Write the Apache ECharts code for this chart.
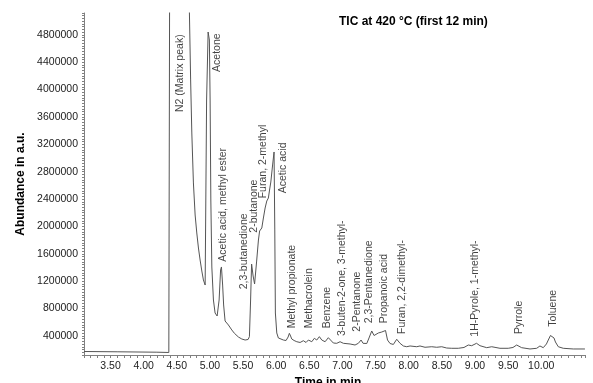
<!DOCTYPE html>
<html>
<head>
<meta charset="utf-8">
<script src="https://cdn.jsdelivr.net/npm/echarts@6/dist/echarts.min.js"></script>
<style>
html, body { margin: 0; padding: 0; background: #fff; }
#chart { width: 593px; height: 383px; }
</style>
</head>
<body>
<div id="chart"></div>
<script>
// TIC trace, time in min / abundance in a.u. (N2 peak runs off the top)
var times = [3.10, 3.60, 4.20, 4.38, 4.40, 4.55, 4.679, 4.709, 4.727, 4.751, 4.777, 4.802, 4.827, 4.852, 4.878, 4.902, 4.928,
	4.950, 4.973, 4.992, 5.003, 5.014, 5.029, 5.053, 5.078, 5.109, 5.139, 5.161, 5.174, 5.192, 5.207, 5.229, 5.279, 5.330,
	5.370, 5.395, 5.430, 5.481, 5.531, 5.576, 5.596, 5.614, 5.629, 5.652, 5.674, 5.704, 5.732, 5.750, 5.783, 5.807, 5.833,
	5.858, 5.882, 5.900, 5.919, 5.946, 5.968, 5.979, 5.988, 6.009, 6.033, 6.059, 6.109, 6.149, 6.180, 6.199, 6.217, 6.235,
	6.270, 6.311, 6.361, 6.410, 6.451, 6.486, 6.537, 6.576, 6.612, 6.652, 6.688, 6.738, 6.787, 6.813, 6.863, 6.914, 6.964,
	7.014, 7.115, 7.190, 7.240, 7.281, 7.311, 7.367, 7.401, 7.442, 7.477, 7.507, 7.542, 7.593, 7.650, 7.680, 7.718, 7.768,
	7.819, 7.869, 7.919, 7.970, 8.020, 8.121, 8.170, 8.246, 8.347, 8.422, 8.498, 8.573, 8.649, 8.748, 8.834, 8.899, 8.950,
	9.023, 9.075, 9.177, 9.252, 9.377, 9.502, 9.573, 9.629, 9.704, 9.830, 9.931, 9.980, 10.030, 10.078, 10.106, 10.139,
	10.166, 10.192, 10.214, 10.257, 10.332, 10.483, 10.659];
var abundance = [171000, 167000, 161000, 157000, 9000000, 12000000, 5749000, 4141000, 3366000, 2635000, 2167000, 1904000, 1684000, 1509000, 1348000, 1217000, 1143000,
	3848000, 4842000, 4725000, 3848000, 2386000, 1407000, 924000, 734000, 690000, 924000, 1363000, 1407000, 1143000, 851000, 617000, 559000, 486000,
	437000, 461000, 383000, 354000, 339000, 347000, 388000, 924000, 1450000, 1275000, 1158000, 1480000, 1801000, 1933000, 1977000, 2123000, 2269000,
	2371000, 2415000, 2532000, 2649000, 2898000, 3088000, 1948000, 734000, 442000, 369000, 354000, 339000, 332000, 383000, 437000, 398000, 354000,
	332000, 314000, 303000, 329000, 303000, 339000, 314000, 364000, 339000, 388000, 339000, 314000, 373000, 364000, 295000, 291000, 314000,
	291000, 281000, 266000, 291000, 339000, 291000, 288000, 369000, 471000, 405000, 434000, 442000, 456000, 478000, 339000, 288000, 274000,
	350000, 291000, 252000, 241000, 252000, 241000, 252000, 233000, 241000, 233000, 241000, 222000, 218000, 218000, 230000, 266000, 256000,
	291000, 256000, 227000, 241000, 218000, 218000, 230000, 266000, 227000, 208000, 218000, 252000, 227000, 281000, 339000, 405000,
	423000, 369000, 310000, 241000, 218000, 208000, 208000];

// peak annotations: name, time of the label, abundance where the text starts
var peakNames = ['N2 (Matrix peak)', 'Acetone', 'Acetic acid, methyl ester', '2,3-butanedione', '2-butanone', 'Furan, 2-methyl',
	'Acetic acid', 'Methyl propionate', 'Methacrolein', 'Benzene', '3-buten-2-one, 3-methyl-', '2-Pentanone', '2,3-Pentanedione',
	'Propanoic acid', 'Furan, 2,2-dimethyl-', '1H-Pyrole, 1-methyl-', 'Pyrrole', 'Toluene'];
var peakTimes = [4.55, 5.104, 5.199, 5.520, 5.671, 5.807, 6.100, 6.235, 6.501, 6.763, 6.989, 7.216, 7.406, 7.632, 7.894, 9.000, 9.668, 10.181];
var labelBase = [3673000, 4258000, 1484000, 1081000, 1908000, 2411000, 2484000, 510000, 510000, 510000, 398000, 461000, 583000, 583000, 427000, 388000, 427000, 534000];

var xTickLabels = ['3.50', '4.00', '4.50', '5.00', '5.50', '6.00', '6.50', '7.00', '7.50', '8.00', '8.50', '9.00', '9.50', '10.00'];
var yTickLabels = [400000, 800000, 1200000, 1600000, 2000000, 2400000, 2800000, 3200000, 3600000, 4000000, 4400000, 4800000];

var font = "'Liberation Sans', Arial, sans-serif";

var trace = [];
for (var i = 0; i < times.length; i++) {
	trace.push([times[i], abundance[i]]);
}
var marks = [];
for (var j = 0; j < peakNames.length; j++) {
	marks.push([peakTimes[j], labelBase[j], peakNames[j]]);
}

var myChart = echarts.init(document.getElementById('chart'));
var option = {
	animation: false,
	backgroundColor: '#fff',
	title: {
		text: 'TIC at 420 °C (first 12 min)',
		left: 339,
		top: 16,
		padding: 0,
		textStyle: { fontFamily: font, fontSize: 12, fontWeight: 'bold', color: '#000' }
	},
	grid: { left: 84, right: 8, top: 13, bottom: 28, outerBoundsMode: 'none' },
	xAxis: {
		type: 'value',
		min: 3.1,
		max: 10.66,
		interval: 0.1,
		name: 'Time in min',
		nameLocation: 'middle',
		nameGap: 20,
		nameTextStyle: { fontFamily: font, fontSize: 12, fontWeight: 'bold', color: '#000', padding: [0, 13, 0, 0] },
		axisLine: { show: true, lineStyle: { color: '#808080', width: 1 } },
		axisTick: { show: true, length: 3, lineStyle: { color: '#808080' } },
		axisLabel: {
			fontFamily: font, fontSize: 10.5, color: '#222', margin: 6,
			formatter: function (v) {
				var s = v.toFixed(2);
				return xTickLabels.indexOf(s) >= 0 ? s : '';
			}
		},
		splitLine: { show: false }
	},
	yAxis: {
		type: 'value',
		min: 120000,
		max: 5120000,
		interval: 40000,
		name: 'Abundance in a.u.',
		nameLocation: 'middle',
		nameGap: 56,
		nameTextStyle: { fontFamily: font, fontSize: 12, fontWeight: 'bold', color: '#000' },
		axisLine: { show: true, lineStyle: { color: '#808080', width: 1 } },
		axisTick: { show: true, length: 2, lineStyle: { color: '#808080' } },
		axisLabel: {
			fontFamily: font, fontSize: 10.5, color: '#222', margin: 6,
			formatter: function (v) {
				var n = Math.round(v);
				return yTickLabels.indexOf(n) >= 0 ? String(n) : '';
			}
		},
		splitLine: { show: false }
	},
	series: [
		{
			type: 'line',
			data: trace,
			showSymbol: false,
			clip: true,
			lineStyle: { color: '#555', width: 1 },
			silent: true
		},
		{
			type: 'scatter',
			data: marks,
			symbolSize: 1,
			itemStyle: { color: 'rgba(0,0,0,0)' },
			silent: true,
			label: {
				show: true,
				formatter: function (p) { return p.data[2]; },
				position: 'inside',
				rotate: 90,
				align: 'left',
				verticalAlign: 'middle',
				fontFamily: font,
				fontSize: 10.5,
				color: '#111'
			}
		}
	]
};
myChart.setOption(option);
</script>
</body>
</html>
